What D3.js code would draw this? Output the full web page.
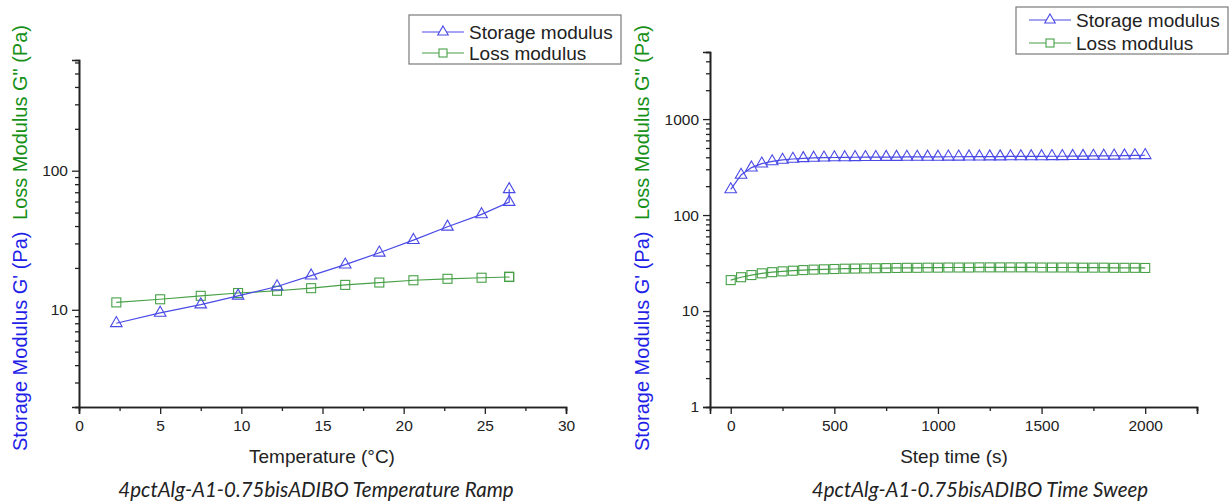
<!DOCTYPE html>
<html>
<head>
<meta charset="utf-8">
<script src="https://cdn.jsdelivr.net/npm/d3@7"></script>
<style>
  html, body { margin: 0; padding: 0; background: #fff; }
  svg { display: block; }
  .tick text { font-family: "Liberation Sans", Arial, sans-serif; font-size: 15.5px; fill: #222; }
</style>
</head>
<body>
<svg id="chart" width="1232" height="503"></svg>
<script>
// Temperature ramp
const rampTemp = [2.3, 5.0, 7.5, 9.8, 12.2, 14.3, 16.4, 18.5, 20.6, 22.7, 24.8, 26.5, 26.5];
const rampStorage = [8.0, 9.5, 10.9, 12.6, 14.7, 17.6, 21.1, 25.7, 31.7, 39.5, 48.5, 59.5, 73.5];
const rampLoss = [11.3, 11.9, 12.6, 13.2, 13.7, 14.3, 15.1, 15.7, 16.3, 16.7, 17.0, 17.2, 17.3];

// Time sweep
const sweepTime = [0, 50, 100, 150, 200, 250, 300, 350, 400, 450, 500, 550, 600, 650, 700,
  750, 800, 850, 900, 950, 1000, 1050, 1100, 1150, 1200, 1250, 1300, 1350, 1400, 1450,
  1500, 1550, 1600, 1650, 1700, 1750, 1800, 1850, 1900, 1950, 2000];
const sweepStorage = [185, 262, 312, 343, 362, 375, 384, 390, 394, 396, 398, 399, 400, 401,
  401, 402, 402, 403, 403, 404, 404, 405, 405, 406, 406, 407, 407, 408, 408, 409, 409, 410,
  410, 411, 412, 413, 414, 415, 416, 418, 420];
const sweepLoss = [21.0, 22.5, 23.7, 24.7, 25.4, 25.9, 26.3, 26.7, 27.0, 27.2, 27.4, 27.6,
  27.7, 27.8, 27.9, 28.0, 28.1, 28.2, 28.2, 28.3, 28.3, 28.4, 28.4, 28.4, 28.5, 28.5, 28.5,
  28.5, 28.5, 28.5, 28.4, 28.4, 28.4, 28.4, 28.3, 28.3, 28.3, 28.2, 28.2, 28.2, 28.1];

const seriesNames = ["Storage modulus", "Loss modulus"];

// Tick values
const rampXMajor = [0, 5, 10, 15, 20, 25, 30];
const rampXMinor = [2.5, 7.5, 12.5, 17.5, 22.5, 27.5];
const rampYMajor = [10, 100];
const rampYMinor = [2, 3, 4, 5, 6, 7, 8, 9, 20, 30, 40, 50, 60, 70, 80, 90, 200, 300, 400, 500, 600];
const sweepXMajor = [0, 500, 1000, 1500, 2000];
const sweepXMinor = [250, 750, 1250, 1750, 2250];
const sweepYMajor = [1, 10, 100, 1000];
const sweepYMinor = [2, 3, 4, 5, 6, 7, 8, 9, 20, 30, 40, 50, 60, 70, 80, 90,
  200, 300, 400, 500, 600, 700, 800, 900, 2000, 3000, 4000, 5000];

const BLUE_LINE = "#4a4ae6";
const GREEN_LINE = "#47a047";
const BLUE_TEXT = "#1f1fe8";
const GREEN_TEXT = "#169016";
const FONT = '"Liberation Sans", Arial, sans-serif';

const svg = d3.select("#chart");

function drawPanel(cfg) {
  const g = svg.append("g");
  const x = d3.scaleLinear().domain(cfg.xDomain).range([cfg.left, cfg.right]);
  const y = d3.scaleLog().domain(cfg.yDomain).range([cfg.bottom, cfg.top]);

  // minor ticks
  g.append("g").attr("transform", `translate(0,${cfg.bottom})`)
    .call(d3.axisBottom(x).tickValues(cfg.xMinor).tickSize(4).tickFormat(""));
  g.append("g").attr("transform", `translate(${cfg.left},0)`)
    .call(d3.axisLeft(y).tickValues(cfg.yMinor).tickSize(4).tickFormat(""));

  // major ticks with labels
  g.append("g").attr("transform", `translate(0,${cfg.bottom})`)
    .call(d3.axisBottom(x).tickValues(cfg.xMajor).tickSize(7).tickPadding(6).tickFormat(d3.format("d")));
  g.append("g").attr("transform", `translate(${cfg.left},0)`)
    .call(d3.axisLeft(y).tickValues(cfg.yMajor).tickSize(7).tickPadding(4).tickFormat(d3.format("d")));

  g.selectAll(".domain").attr("stroke", "#222").attr("stroke-width", 1.6);
  g.selectAll(".tick line").attr("stroke", "#222").attr("stroke-width", 1.3);

  // series
  const line = d3.line().x(d => x(d[0])).y(d => y(d[1]));
  const storagePts = cfg.xs.map((v, i) => [v, cfg.storage[i]]);
  const lossPts = cfg.xs.map((v, i) => [v, cfg.loss[i]]);

  g.append("path").datum(lossPts).attr("d", line)
    .attr("fill", "none").attr("stroke", GREEN_LINE).attr("stroke-width", 1.2);
  g.selectAll(".sq").data(lossPts).enter().append("rect")
    .attr("x", d => x(d[0]) - 4.5).attr("y", d => y(d[1]) - 4.5)
    .attr("width", 9).attr("height", 9)
    .attr("fill", "none").attr("stroke", GREEN_LINE).attr("stroke-width", 1.1);

  g.append("path").datum(storagePts).attr("d", line)
    .attr("fill", "none").attr("stroke", BLUE_LINE).attr("stroke-width", 1.2);
  const tri = d3.symbol().type(d3.symbolTriangle).size(58);
  g.selectAll(".tri").data(storagePts).enter().append("path")
    .attr("d", tri)
    .attr("transform", d => `translate(${x(d[0])},${y(d[1])})`)
    .attr("fill", "none").attr("stroke", BLUE_LINE).attr("stroke-width", 1.1);

  // axis title
  g.append("text").attr("x", cfg.xTitleX).attr("y", cfg.bottom + 56)
    .attr("text-anchor", "middle").attr("font-family", FONT).attr("font-size", 19)
    .attr("fill", "#222").text(cfg.xTitle);

  // y axis titles (rotated)
  g.append("text")
    .attr("transform", `translate(${cfg.yTitleX},451) rotate(-90)`)
    .attr("text-anchor", "start").attr("font-family", FONT).attr("font-size", 20)
    .attr("fill", BLUE_TEXT).text("Storage Modulus G' (Pa)");
  g.append("text")
    .attr("transform", `translate(${cfg.yTitleX},25) rotate(-90)`)
    .attr("text-anchor", "end").attr("font-family", FONT).attr("font-size", 20)
    .attr("fill", GREEN_TEXT).text('Loss Modulus G" (Pa)');

  // caption
  g.append("text").attr("x", cfg.captionX).attr("y", 497)
    .attr("text-anchor", "middle").attr("font-family", "Lato, 'Open Sans', sans-serif")
    .attr("font-style", "italic").attr("font-size", 20.5)
    .attr("fill", "#222").text(cfg.caption);

  // legend
  const lg = g.append("g");
  lg.append("rect").attr("x", cfg.legX).attr("y", cfg.legY)
    .attr("width", 212).attr("height", cfg.legH)
    .attr("fill", "#fff").attr("stroke", "#7a7a7a").attr("stroke-width", 1.2);
  seriesNames.forEach((name, i) => {
    const cy = cfg.legY + cfg.legRow0 + i * cfg.legStep;
    const col = i === 0 ? BLUE_LINE : GREEN_LINE;
    lg.append("line").attr("x1", cfg.legX + 13).attr("x2", cfg.legX + 55)
      .attr("y1", cy).attr("y2", cy).attr("stroke", col).attr("stroke-width", 1.2);
    const mx = cfg.legX + 34;
    if (i === 0) {
      lg.append("path").attr("d", d3.symbol().type(d3.symbolTriangle).size(48)())
        .attr("transform", `translate(${mx},${cy})`)
        .attr("fill", "#fff").attr("stroke", col).attr("stroke-width", 1.1);
    } else {
      lg.append("rect").attr("x", mx - 4).attr("y", cy - 4).attr("width", 8).attr("height", 8)
        .attr("fill", "#fff").attr("stroke", col).attr("stroke-width", 1.1);
    }
    lg.append("text").attr("x", cfg.legX + 60).attr("y", cy)
      .attr("dy", "0.35em").attr("font-family", FONT).attr("font-size", 19)
      .attr("fill", "#222").text(name);
  });
}

drawPanel({
  left: 79, right: 566, top: 60, bottom: 407,
  xDomain: [0, 30], yDomain: [2, 625],
  xMajor: rampXMajor, xMinor: rampXMinor, yMajor: rampYMajor, yMinor: rampYMinor,
  xs: rampTemp, storage: rampStorage, loss: rampLoss,
  xTitle: "Temperature (°C)", xTitleX: 322,
  yTitleX: 27,
  caption: "4pctAlg-A1-0.75bisADIBO Temperature Ramp", captionX: 316,
  legX: 409, legY: 15, legH: 49, legRow0: 17, legStep: 21
});

drawPanel({
  left: 710, right: 1197, top: 52, bottom: 407,
  xDomain: [-100, 2250], yDomain: [1, 5000],
  xMajor: sweepXMajor, xMinor: sweepXMinor, yMajor: sweepYMajor, yMinor: sweepYMinor,
  xs: sweepTime, storage: sweepStorage, loss: sweepLoss,
  xTitle: "Step time (s)", xTitleX: 954,
  yTitleX: 649,
  caption: "4pctAlg-A1-0.75bisADIBO Time Sweep", captionX: 980,
  legX: 1016, legY: 7, legH: 47, legRow0: 13, legStep: 23
});
</script>
</body>
</html>
